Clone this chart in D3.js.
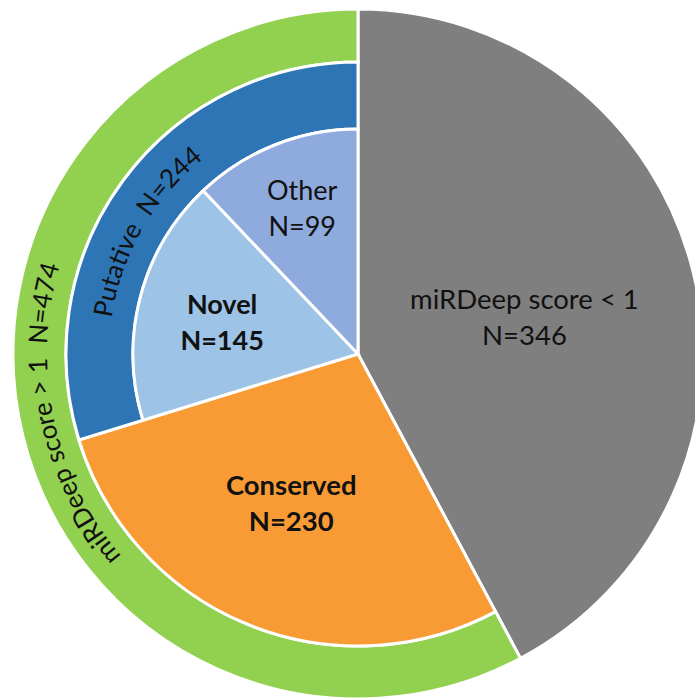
<!DOCTYPE html>
<html><head><meta charset="utf-8">
<script src="https://cdn.jsdelivr.net/npm/d3@7"></script>
<style>body{margin:0;background:#fff} svg{display:block}</style>
</head><body>
<svg id="chart" width="695" height="700"></svg>
<script>
// ---- data ----
const groups = ["miRDeep score < 1", "miRDeep score > 1"];
const groupTotals = [346, 474];
const classes = ["Conserved", "Putative"];
const classTotals = [230, 244];
const subclasses = ["Novel", "Other"];
const subclassTotals = [145, 99];

// ---- layout ----
const W = 695, H = 700, cx = 358, cy = 354;
const bounds = [345, 292, 225];   // outer radius per depth
const colors = {
  "miRDeep score < 1": "#7f7f7f",
  "miRDeep score > 1": "#92d050",
  "Conserved": "#f99b35",
  "Putative": "#2e75b6",
  "Novel": "#9dc3e6",
  "Other": "#8faadc"
};
const FONT = "Lato, 'Open Sans', sans-serif";
const TXT = "#111";

const tree = {
  name: "root",
  children: [
    {name: groups[0], value: groupTotals[0]},
    {name: groups[1], children: [
      {name: classes[0], value: classTotals[0]},
      {name: classes[1], children: subclasses.map((n, i) => ({name: n, value: subclassTotals[i]}))}
    ]}
  ]
};
const root = d3.hierarchy(tree).sum(d => d.value || 0);
d3.partition().size([2 * Math.PI, 1])(root);

const svg = d3.select("#chart");
const g = svg.append("g").attr("transform", `translate(${cx},${cy})`);

const arc = d3.arc()
  .startAngle(d => d.x0).endAngle(d => d.x1)
  .innerRadius(d => d.children ? bounds[d.depth] : 0)
  .outerRadius(d => bounds[d.depth - 1]);

g.selectAll("path.slice")
  .data(root.descendants().filter(d => d.depth > 0))
  .join("path")
  .attr("class", "slice")
  .attr("d", arc)
  .attr("fill", d => colors[d.data.name])
  .attr("stroke", "#fff")
  .attr("stroke-width", 3)
  .attr("stroke-linejoin", "miter");

const deg = Math.PI / 180;
const polar = (a, r) => [r * Math.sin(a * deg), -r * Math.cos(a * deg)];

// straight two-line labels: [line1, line2, angleDeg, radius, bold, size]
const straightLabels = [
  [groups[0], "N=" + groupTotals[0], 80, 169, false, 27.5],
  [classes[0], "N=" + classTotals[0], 203, 171, true, 27.5],
  [subclasses[0], "N=" + subclassTotals[0], 280, 138, true, 27],
  [subclasses[1], "N=" + subclassTotals[1], 338, 149, false, 27]
];
straightLabels.forEach(([l1, l2, a, r, bold, fs]) => {
  const [x, y] = polar(a, r);
  const t = g.append("text")
    .attr("text-anchor", "middle")
    .attr("font-family", FONT)
    .attr("font-size", fs)
    .attr("font-weight", bold ? "bold" : "normal")
    .attr("fill", TXT);
  t.append("tspan").attr("x", x).attr("y", y - 16).text(l1);
  t.append("tspan").attr("x", x).attr("y", y + 20).text(l2);
});

// curved labels: [text, centerAngleDeg, baselineRadius, size]
const curvedLabels = [
  [groups[1] + "\u00a0\u00a0N=" + groupTotals[1], 258, 311, 26],
  [classes[1] + "\u00a0\u00a0N=" + classTotals[1], 300, 249, 26]
];
curvedLabels.forEach(([txt, c, r, fs], i) => {
  const [x0, y0] = polar(c - 85, r);
  const [x1, y1] = polar(c + 85, r);
  const id = "cp" + i;
  g.append("path").attr("id", id).attr("fill", "none")
    .attr("d", `M${x0},${y0} A${r},${r} 0 0 1 ${x1},${y1}`);
  g.append("text")
    .attr("font-family", FONT)
    .attr("font-size", fs)
    .attr("fill", TXT)
    .append("textPath")
    .attr("href", "#" + id)
    .attr("startOffset", "50%")
    .attr("text-anchor", "middle")
    .text(txt);
});
</script>
</body></html>
